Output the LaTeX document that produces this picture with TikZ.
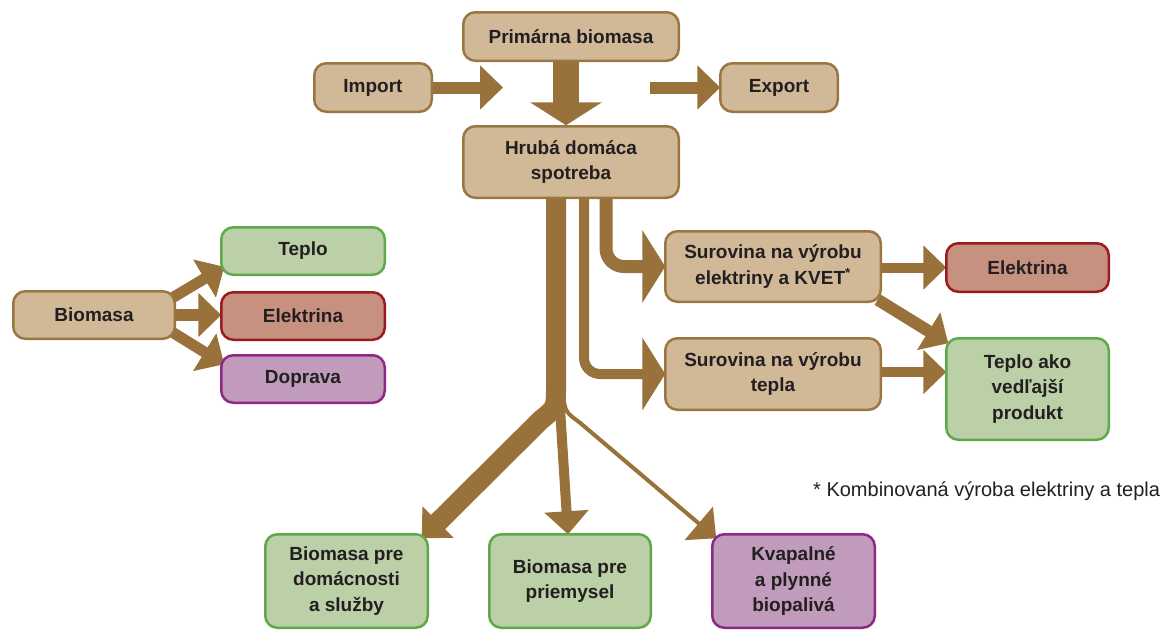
\documentclass[tikz,border=0pt]{standalone}
\usepackage{fontspec}
\setmainfont{Liberation Sans}
\usetikzlibrary{arrows.meta,backgrounds}
\definecolor{tanF}{HTML}{D1B998}
\definecolor{tanD}{HTML}{9C7640}
\definecolor{arr}{HTML}{98723A}
\definecolor{grF}{HTML}{BBD0A6}
\definecolor{grD}{HTML}{60A84A}
\definecolor{rdF}{HTML}{C7917F}
\definecolor{rdD}{HTML}{9B1B20}
\definecolor{puF}{HTML}{C09BBC}
\definecolor{puD}{HTML}{8E2882}
\definecolor{txt}{HTML}{231F20}
\tikzset{
  box/.style={rectangle, rounded corners=12pt, line width=2.5pt, inner sep=0pt, outer sep=0pt,
    align=center, text=txt, font=\bfseries\fontsize{19}{25.5}\selectfont},
  tanbox/.style={box, fill=tanF, draw=tanD},
  grbox/.style={box, fill=grF, draw=grD},
  rdbox/.style={box, fill=rdF, draw=rdD},
  pubox/.style={box, fill=puF, draw=puD},
  flow/.style={draw=arr, line cap=butt, line join=round},
  tipS/.style={-{Triangle[length=23pt,width=43pt]}},
  tipL/.style={-{Triangle[length=23pt,width=72pt]}},
}
\begin{document}
\begin{tikzpicture}[x=1pt,y=-1pt]
\useasboundingbox (0,0) rectangle (1173,630);
% boxes
\node[tanbox, minimum width=215.5pt, minimum height=48.5pt] (pb) at (571,36.5) {Primárna biomasa};
\node[tanbox, minimum width=117.5pt, minimum height=48.5pt] (im) at (373,87.5) {Import};
\node[tanbox, minimum width=117.5pt, minimum height=48.5pt] (ex) at (779,87.5) {Export};
\node[tanbox, minimum width=215.5pt, minimum height=71.5pt] (hr) at (571,162) {Hrubá domáca\\spotreba};
\node[grbox, minimum width=163.5pt, minimum height=47.5pt] (tl) at (303,251) {Teplo};
\node[tanbox, minimum width=161.5pt, minimum height=47.5pt] (bio) at (94,315) {Biomasa};
\node[rdbox, minimum width=163.5pt, minimum height=47.5pt] (el) at (303,316) {Elektrina};
\node[pubox, minimum width=163.5pt, minimum height=47.5pt] (dp) at (303,379) {Doprava};
\node[tanbox, minimum width=215.5pt, minimum height=70.5pt] (kv) at (773,266.5) {Surovina na výrobu\\elektriny a KVET\textsuperscript{*}};
\node[tanbox, minimum width=215.5pt, minimum height=71.5pt] (tp) at (773,374) {Surovina na výrobu\\tepla};
\node[rdbox, minimum width=162.5pt, minimum height=48.5pt] (er) at (1027.5,267.5) {Elektrina};
\node[grbox, minimum width=162.5pt, minimum height=101.5pt] (tk) at (1027.5,389) {Teplo ako\\vedľajší\\produkt};
\node[grbox, minimum width=162.5pt, minimum height=93.5pt] (bd) at (346.5,581) {Biomasa pre\\domácnosti\\a služby};
\node[grbox, minimum width=161.5pt, minimum height=93.5pt] (bp) at (570,581) {Biomasa pre\\priemysel};
\node[pubox, minimum width=162.5pt, minimum height=93.5pt] (bk) at (793.5,581) {Kvapalné\\a plynné\\biopalivá};
\node[anchor=base west, inner sep=0pt, text=txt, font=\fontsize{20}{24}\selectfont] (fn) at (813,496) {* Kombinovaná výroba elektriny a tepla};
% free ends
\coordinate (imEnd) at (503,87.5);
\coordinate (exStart) at (650,87.5);
\coordinate (split) at ([xshift=-15pt,yshift=-200pt]hr.south);
\begin{scope}[on background layer]
\draw[flow, line width=12pt, tipS] (im.east) -- (imEnd);
\draw[flow, line width=12pt, tipS] (exStart) -- (ex.west);
\draw[flow, line width=26pt, -{Triangle[length=23pt,width=71pt]}] ([xshift=-5pt]pb.south) -- ([xshift=-5pt,yshift=1pt]hr.north);
\draw[flow, line width=13pt, rounded corners=18pt, tipL] ([xshift=35pt]hr.south) |- (kv.west);
\draw[flow, line width=10pt, rounded corners=16pt, tipL] ([xshift=13pt]hr.south) |- (tp.west);
\draw[flow, line width=20pt, tipS] ([xshift=-15pt]hr.south) -- ([yshift=10pt]split) .. controls ([yshift=-10pt]split) .. ([xshift=-15pt,yshift=-22pt]split) -- ([xshift=-6pt,yshift=-4pt]bd.north east);
\draw[flow, line width=10pt, tipS] ([xshift=3pt,yshift=5pt]split) -- ([xshift=-2pt]bp.north);
\draw[flow, line width=4pt, tipS] ([xshift=7pt,yshift=5pt]split) .. controls ([xshift=9pt,yshift=-14pt]split) .. ([xshift=24pt,yshift=-25pt]split) -- ([xshift=4pt,yshift=-4pt]bk.north west);
\draw[flow, line width=11pt, tipS] ([xshift=-6pt,yshift=15pt]bio.east) -- ([xshift=3pt,yshift=8pt]tl.south west);
\draw[flow, line width=12pt, tipS] (bio.east) -- (bio.east -| el.west);
\draw[flow, line width=11pt, tipS] ([xshift=-6pt,yshift=-15pt]bio.east) -- ([xshift=3pt,yshift=-9pt]dp.north west);
\draw[flow, line width=10pt, tipS] (kv.east |- er.west) -- (er.west);
\draw[flow, line width=12pt, tipS] ([xshift=-3pt,yshift=2pt]kv.south east) -- ([xshift=2pt,yshift=-5pt]tk.north west);
\draw[flow, line width=10pt, tipS] ([yshift=2pt]tp.east) -- ([yshift=2pt]tp.east -| tk.west);
\end{scope}
\end{tikzpicture}
\end{document}
